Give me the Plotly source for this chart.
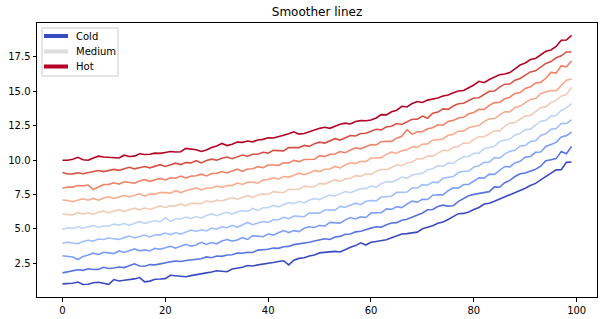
import plotly.graph_objects as go

x_vals = list(range(100))

line0 = [1.00, 1.01, 1.04, 1.13, 0.95, 0.97, 1.08, 1.12, 1.02, 0.97,
         1.31, 1.21, 1.26, 1.30, 1.36, 1.46, 1.15, 1.20, 1.33, 1.35,
         1.38, 1.62, 1.58, 1.55, 1.52, 1.60, 1.68, 1.71, 1.80, 1.86,
         1.95, 1.92, 1.88, 2.08, 2.12, 2.20, 2.33, 2.30, 2.38, 2.42,
         2.50, 2.55, 2.62, 2.68, 2.38, 2.72, 2.85, 2.90, 3.02, 3.10,
         3.25, 3.28, 3.32, 3.36, 3.32, 3.52, 3.66, 3.78, 3.98, 3.82,
         4.02, 4.08, 4.14, 4.20, 4.35, 4.48, 4.62, 4.65, 4.70, 4.76,
         5.00, 5.12, 5.22, 5.40, 5.50, 5.68, 5.90, 6.10, 6.12, 6.22,
         6.40, 6.55, 6.80, 6.86, 7.00, 7.15, 7.30, 7.45, 7.60, 7.80,
         7.95, 8.15, 8.30, 8.55, 8.80, 9.05, 9.28, 9.29, 9.83, 9.85]

line1 = [1.80, 1.88, 1.92, 2.02, 1.98, 2.10, 2.04, 2.05, 2.20, 2.12,
         2.15, 2.22, 2.18, 2.30, 2.46, 2.30, 2.28, 2.40, 2.38, 2.45,
         2.55, 2.60, 2.66, 2.62, 2.70, 2.75, 2.80, 2.82, 2.96, 2.90,
         3.02, 3.00, 3.10, 3.12, 3.24, 3.22, 3.30, 3.28, 3.45, 3.48,
         3.52, 3.60, 3.58, 3.70, 3.72, 3.85, 3.90, 3.96, 4.02, 4.12,
         4.20, 4.28, 4.22, 4.40, 4.45, 4.60, 4.62, 4.78, 4.82, 4.95,
         5.05, 5.15, 5.12, 5.30, 5.42, 5.45, 5.62, 5.70, 5.85, 5.95,
         6.15, 6.38, 6.40, 6.62, 6.72, 6.65, 6.68, 7.00, 7.22, 7.40,
         7.50, 7.55, 7.62, 7.70, 8.05, 8.02, 8.35, 8.52, 8.80, 9.00,
         9.05, 9.20, 9.32, 9.55, 9.95, 10.02, 10.10, 10.62, 10.45, 10.98]

line2 = [3.04, 3.00, 2.95, 2.77, 2.98, 3.10, 3.23, 3.13, 3.30, 3.25,
         3.20, 3.39, 3.28, 3.40, 3.54, 3.40, 3.47, 3.39, 3.58, 3.52,
         3.61, 3.73, 3.59, 3.74, 3.87, 3.74, 3.83, 4.02, 3.86, 4.00,
         3.91, 4.11, 4.22, 4.11, 4.19, 4.36, 4.23, 4.50, 4.44, 4.42,
         4.62, 4.54, 4.71, 4.87, 4.73, 4.87, 4.80, 5.04, 5.15, 5.10,
         5.25, 5.19, 5.47, 5.43, 5.41, 5.65, 5.82, 5.72, 5.87, 5.82,
         6.14, 6.17, 6.17, 6.45, 6.41, 6.61, 6.54, 6.80, 7.01, 6.94,
         7.15, 7.13, 7.44, 7.48, 7.47, 7.77, 7.98, 7.96, 8.22, 8.22,
         8.47, 8.70, 8.68, 8.97, 8.95, 9.24, 9.53, 9.50, 9.79, 9.90,
         10.21, 10.26, 10.56, 10.58, 10.98, 11.13, 11.28, 11.67, 11.77, 12.02]

line3 = [3.97, 4.02, 3.97, 3.92, 4.08, 4.17, 4.11, 4.26, 4.22, 4.33,
         4.28, 4.23, 4.36, 4.47, 4.34, 4.44, 4.55, 4.41, 4.57, 4.56,
         4.69, 4.58, 4.73, 4.61, 4.79, 4.91, 4.81, 4.93, 4.84, 5.06,
         4.97, 5.14, 5.08, 5.25, 5.11, 5.30, 5.46, 5.30, 5.44, 5.53,
         5.46, 5.66, 5.66, 5.84, 5.73, 5.93, 5.90, 5.88, 6.15, 6.15,
         6.14, 6.37, 6.39, 6.35, 6.63, 6.57, 6.73, 6.86, 6.75, 7.00,
         7.06, 7.03, 7.31, 7.33, 7.37, 7.65, 7.68, 7.67, 7.96, 7.96,
         8.21, 8.17, 8.39, 8.36, 8.67, 8.74, 8.80, 9.09, 9.18, 9.20,
         9.49, 9.58, 9.83, 9.84, 10.17, 10.14, 10.43, 10.64, 10.70, 11.02,
         11.05, 11.35, 11.40, 11.78, 11.90, 12.23, 12.29, 12.65, 12.65, 12.92]

line4 = [4.96, 5.07, 5.03, 5.15, 5.04, 5.16, 5.25, 5.10, 5.22, 5.19,
         5.34, 5.27, 5.38, 5.25, 5.42, 5.54, 5.40, 5.51, 5.60, 5.50,
         5.81, 5.55, 5.71, 5.71, 5.85, 5.75, 5.89, 5.77, 5.97, 6.08,
         5.95, 6.10, 6.20, 6.07, 6.23, 6.32, 6.27, 6.48, 6.32, 6.53,
         6.54, 6.70, 6.60, 6.76, 6.90, 6.83, 7.00, 6.88, 7.09, 7.19,
         7.12, 7.32, 7.45, 7.39, 7.53, 7.71, 7.62, 7.80, 7.93, 7.92,
         8.10, 8.03, 8.27, 8.43, 8.39, 8.55, 8.76, 8.67, 8.91, 8.98,
         9.03, 9.29, 9.36, 9.58, 9.54, 9.78, 9.76, 10.03, 10.24, 10.26,
         10.48, 10.50, 10.83, 10.91, 10.99, 11.34, 11.43, 11.52, 11.82, 11.92,
         12.21, 12.24, 12.54, 12.82, 12.88, 13.19, 13.23, 13.60, 13.79, 14.10]

line5 = [6.06, 6.04, 6.01, 6.17, 6.08, 6.17, 6.05, 6.22, 6.28, 6.17,
         6.30, 6.39, 6.26, 6.37, 6.50, 6.38, 6.51, 6.41, 6.54, 6.66,
         6.55, 6.67, 6.67, 6.81, 6.67, 6.85, 6.85, 6.82, 7.04, 6.94,
         7.09, 7.02, 7.15, 7.27, 7.15, 7.28, 7.41, 7.28, 7.46, 7.54,
         7.49, 7.70, 7.68, 7.62, 7.86, 7.89, 7.88, 8.10, 8.05, 8.07,
         8.30, 8.25, 8.41, 8.57, 8.43, 8.63, 8.68, 8.86, 8.81, 9.00,
         8.96, 9.19, 9.33, 9.29, 9.45, 9.65, 9.58, 9.79, 9.86, 10.08,
         10.07, 10.29, 10.28, 10.50, 10.71, 10.68, 10.92, 10.99, 11.24, 11.20,
         11.49, 11.68, 11.69, 11.91, 12.13, 12.12, 12.44, 12.68, 12.72, 12.96,
         13.19, 13.24, 13.52, 13.80, 13.86, 14.17, 14.33, 14.65, 14.75, 15.28]

line6 = [7.09, 7.06, 6.97, 7.09, 7.18, 7.08, 7.21, 7.08, 7.24, 7.33,
         7.20, 7.31, 7.42, 7.31, 7.44, 7.54, 7.37, 7.53, 7.52, 7.64,
         7.63, 7.59, 7.77, 7.63, 7.77, 7.85, 7.97, 7.82, 7.96, 7.96,
         8.11, 8.00, 8.14, 8.15, 8.33, 8.22, 8.39, 8.38, 8.32, 8.54,
         8.58, 8.70, 8.60, 8.80, 8.76, 8.90, 9.04, 8.94, 9.05, 9.23,
         9.16, 9.33, 9.35, 9.53, 9.43, 9.63, 9.80, 9.74, 9.91, 9.88,
         10.14, 10.15, 10.17, 10.41, 10.57, 10.49, 10.68, 10.75, 10.96, 10.92,
         11.15, 11.17, 11.44, 11.48, 11.53, 11.80, 11.86, 12.11, 12.10, 12.34,
         12.45, 12.50, 12.79, 12.99, 13.01, 13.26, 13.51, 13.50, 13.82, 13.92,
         14.17, 14.40, 14.46, 14.82, 14.95, 15.05, 15.02, 15.40, 15.80, 15.88]

line7 = [7.94, 8.04, 8.03, 8.15, 8.12, 8.18, 7.85, 8.06, 8.22, 8.23,
         8.34, 8.25, 8.42, 8.37, 8.32, 8.48, 8.57, 8.45, 8.54, 8.66,
         8.55, 8.71, 8.67, 8.83, 8.69, 8.83, 8.85, 8.97, 8.84, 9.02,
         9.03, 9.16, 9.06, 9.21, 9.33, 9.18, 9.35, 9.36, 9.52, 9.44,
         9.64, 9.64, 9.60, 9.80, 9.78, 9.97, 9.88, 10.04, 10.07, 10.05,
         10.32, 10.25, 10.41, 10.43, 10.61, 10.53, 10.72, 10.88, 10.81, 10.96,
         11.12, 11.09, 11.33, 11.35, 11.35, 11.59, 11.72, 12.20, 11.86, 12.05,
         12.05, 12.27, 12.34, 12.56, 12.53, 12.80, 12.88, 13.05, 13.10, 13.36,
         13.45, 13.68, 13.67, 13.97, 14.17, 14.18, 14.45, 14.56, 14.84, 14.90,
         15.19, 15.32, 15.60, 15.64, 15.94, 16.36, 16.31, 16.85, 16.77, 17.20]

line8 = [9.10, 8.98, 8.99, 9.07, 9.00, 9.08, 9.17, 9.24, 9.16, 9.23,
         9.32, 9.25, 9.34, 9.47, 9.36, 9.46, 9.53, 9.43, 9.54, 9.66,
         9.53, 9.67, 9.77, 9.67, 9.81, 9.79, 9.95, 9.79, 9.96, 10.06,
         9.99, 10.12, 10.22, 10.09, 10.23, 10.36, 10.27, 10.42, 10.42, 10.56,
         10.50, 10.70, 10.68, 10.66, 10.90, 10.89, 10.90, 11.06, 10.99, 11.19,
         11.30, 11.23, 11.39, 11.55, 11.45, 11.61, 11.78, 11.74, 11.93, 11.94,
         12.10, 12.23, 12.19, 12.41, 12.45, 12.65, 12.58, 12.79, 12.96, 12.96,
         13.19, 13.03, 13.40, 13.48, 13.71, 13.68, 13.92, 14.09, 14.12, 14.32,
         14.51, 14.52, 14.75, 14.99, 15.01, 15.30, 15.51, 15.52, 15.80, 15.92,
         16.17, 16.40, 16.48, 16.78, 17.02, 17.15, 17.43, 17.57, 17.85, 17.85]

line9 = [9.98, 9.98, 10.05, 10.20, 10.02, 9.98, 10.15, 10.28, 10.22, 10.20,
         10.22, 10.15, 10.35, 10.25, 10.28, 10.45, 10.40, 10.42, 10.50, 10.48,
         10.55, 10.62, 10.58, 10.60, 10.84, 10.82, 10.75, 10.62, 10.72, 10.90,
         11.02, 11.20, 11.05, 11.15, 11.30, 11.28, 11.38, 11.32, 11.45, 11.50,
         11.62, 11.60, 11.72, 11.80, 11.90, 12.05, 11.88, 11.92, 12.05, 12.20,
         12.30, 12.38, 12.30, 12.45, 12.60, 12.68, 12.62, 12.80, 12.86, 12.85,
         12.90, 13.05, 13.30, 13.28, 13.50, 13.62, 13.90, 13.85, 14.10, 14.25,
         14.18, 14.35, 14.40, 14.50, 14.65, 14.72, 14.88, 15.02, 15.05, 15.25,
         15.45, 15.72, 15.62, 15.85, 16.00, 16.20, 16.25, 16.35, 16.62, 16.90,
         17.05, 17.30, 17.38, 17.62, 17.90, 18.00, 18.25, 18.70, 18.72, 19.05]

series = [line0, line1, line2, line3, line4, line5, line6, line7, line8, line9]
line_colors = ["#3b4cc0", "#5774e0", "#7b9ff9", "#9ebeff", "#c0d4f5",
               "#f2cbb7", "#f7ac8e", "#ee8468", "#d65244", "#b40426"]

legend_names = ["Cold", "Medium", "Hot"]
legend_colors = ["#3b4cc0", "#dddddd", "#b40426"]

x_ticks = [0, 20, 40, 60, 80, 100]
y_ticks = [2.5, 5.0, 7.5, 10.0, 12.5, 15.0, 17.5]

W, H = 601, 319
ML, MR, MT, MB = 37, 4, 23, 22
PW, PH = W - ML - MR, H - MT - MB


def px(xpix):
    return (xpix - ML) / PW


def py(ypix):
    return 1 - (ypix - MT) / PH


fig = go.Figure()
for vals, col in zip(series, line_colors):
    fig.add_trace(go.Scatter(x=x_vals, y=vals, mode="lines",
                             line=dict(color=col, width=1.6),
                             showlegend=False, hoverinfo="skip"))

font_family = "DejaVu Sans"

# legend drawn as a boxed key (matplotlib style)
shapes = [dict(type="rect", xref="paper", yref="paper",
               x0=px(42), x1=px(118), y0=py(76), y1=py(28),
               line=dict(color="#cccccc", width=1),
               fillcolor="rgba(255,255,255,0.8)", layer="above")]
annotations = []
row_y = [36, 51.5, 66.5]
for name, col, ry in zip(legend_names, legend_colors, row_y):
    shapes.append(dict(type="line", xref="paper", yref="paper",
                       x0=px(44), x1=px(68), y0=py(ry), y1=py(ry),
                       line=dict(color=col, width=4), layer="above"))
    annotations.append(dict(text=name, xref="paper", yref="paper",
                            x=px(74), y=py(ry), xanchor="left", yanchor="middle",
                            showarrow=False,
                            font=dict(family=font_family, size=10, color="#000000")))

fig.update_layout(
    width=W, height=H,
    margin=dict(l=ML, r=MR, t=MT, b=MB),
    paper_bgcolor="white", plot_bgcolor="white",
    font=dict(family=font_family, size=10, color="#000000"),
    title=dict(text="Smoother linez", x=0.5, xref="paper", xanchor="center",
               y=1 - 12 / H, yref="container", yanchor="middle",
               font=dict(family=font_family, size=12, color="#000000")),
    showlegend=False,
    shapes=shapes,
    annotations=annotations,
)
fig.update_xaxes(range=[-4.95, 103.95], tickvals=x_ticks, ticks="outside",
                 ticklen=3.5, tickwidth=0.8, tickcolor="#000000",
                 showline=True, linecolor="#000000", linewidth=1, mirror=True,
                 showgrid=False, zeroline=False,
                 tickfont=dict(family=font_family, size=10, color="#000000"))
fig.update_yaxes(range=[0.045, 19.955], tickvals=y_ticks, tickformat=".1f",
                 ticks="outside", ticklen=3.5, tickwidth=0.8, tickcolor="#000000",
                 showline=True, linecolor="#000000", linewidth=1, mirror=True,
                 showgrid=False, zeroline=False,
                 tickfont=dict(family=font_family, size=10, color="#000000"))

fig.write_html("out.html")
